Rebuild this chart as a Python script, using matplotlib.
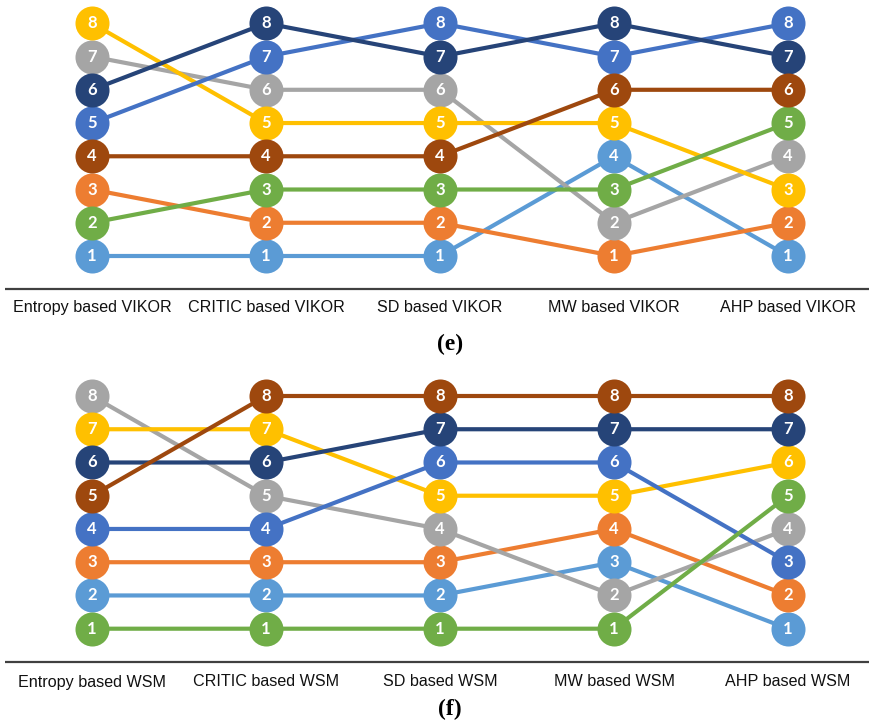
import matplotlib
matplotlib.use("Agg")
import matplotlib.pyplot as plt

W, H = 869, 724
DPI = 100

colors = ["#5B9BD5", "#ED7D31", "#A5A5A5", "#FFC000",
          "#4472C4", "#70AD47", "#264478", "#9E480E"]

methods_e = ["Entropy based VIKOR", "CRITIC based VIKOR", "SD based VIKOR",
             "MW based VIKOR", "AHP based VIKOR"]
methods_f = ["Entropy based WSM", "CRITIC based WSM", "SD based WSM",
             "MW based WSM", "AHP based WSM"]

# ranks per series (one list per colour) across the 5 methods
ranks_e = [
    [1, 1, 1, 4, 1],   # light blue
    [3, 2, 2, 1, 2],   # orange
    [7, 6, 6, 2, 4],   # gray
    [8, 5, 5, 5, 3],   # yellow
    [5, 7, 8, 7, 8],   # blue
    [2, 3, 3, 3, 5],   # green
    [6, 8, 7, 8, 7],   # dark blue
    [4, 4, 4, 6, 6],   # brown
]
ranks_f = [
    [2, 2, 2, 3, 1],   # light blue
    [3, 3, 3, 4, 2],   # orange
    [8, 5, 4, 2, 4],   # gray
    [7, 7, 5, 5, 6],   # yellow
    [4, 4, 6, 6, 3],   # blue
    [1, 1, 1, 1, 5],   # green
    [6, 6, 7, 7, 7],   # dark blue
    [5, 8, 8, 8, 8],   # brown
]

fig = plt.figure(figsize=(W / DPI, H / DPI), dpi=DPI)
fig.patch.set_facecolor("white")

x0_px, dx_px = 92.0, 174.0
xlim = (-x0_px / dx_px, (W - x0_px) / dx_px)


def panel(methods, ranks, title, top_px, bottom_px, y_r8, y_r1,
          line_px, label_px, title_px, title_x_px):
    ax = fig.add_axes([0, 1 - bottom_px / H, 1, (bottom_px - top_px) / H])
    ax.set_axis_off()
    scale = (y_r1 - y_r8) / 7.0

    def py(p):
        return 1 + (y_r1 - p) / scale

    ax.set_xlim(*xlim)
    ax.set_ylim(py(bottom_px), py(top_px))
    xs = list(range(len(methods)))
    for col, r in zip(colors, ranks):
        ax.plot(xs, r, color=col, lw=3.0, solid_capstyle="butt", zorder=2)
    for col, r in zip(colors, ranks):
        ax.plot(xs, r, ls="none", marker="o", ms=24.5, mfc=col, mec="none",
                zorder=3)
        for x, v in zip(xs, r):
            ax.text(x, v, str(v), color="white", ha="center", va="center",
                    fontsize=12, fontweight="bold", family="Lato", zorder=4)
    ax.plot([(5 - x0_px) / dx_px, xlim[1]], [py(line_px)] * 2,
            color="#404040", lw=1.6, zorder=1, solid_capstyle="butt")
    for x, m in zip(xs, methods):
        ax.text(x, py(label_px), m, ha="center", va="center",
                fontsize=11.6, family="Liberation Sans", color="#111111")
    ax.text((title_x_px - x0_px) / dx_px, py(title_px), title, ha="center",
            va="center", fontsize=17, fontweight="bold",
            family="Liberation Serif", color="black")


panel(methods_e, ranks_e, "(e)", 0, 362, 23.3, 256.0, 288.7, 307.5, 344, 450)
panel(methods_f, ranks_f, "(f)", 362, 724, 396.0, 628.7, 662.3, 682.0, 709, 450)

fig.savefig("out.png", dpi=DPI, facecolor="white")
